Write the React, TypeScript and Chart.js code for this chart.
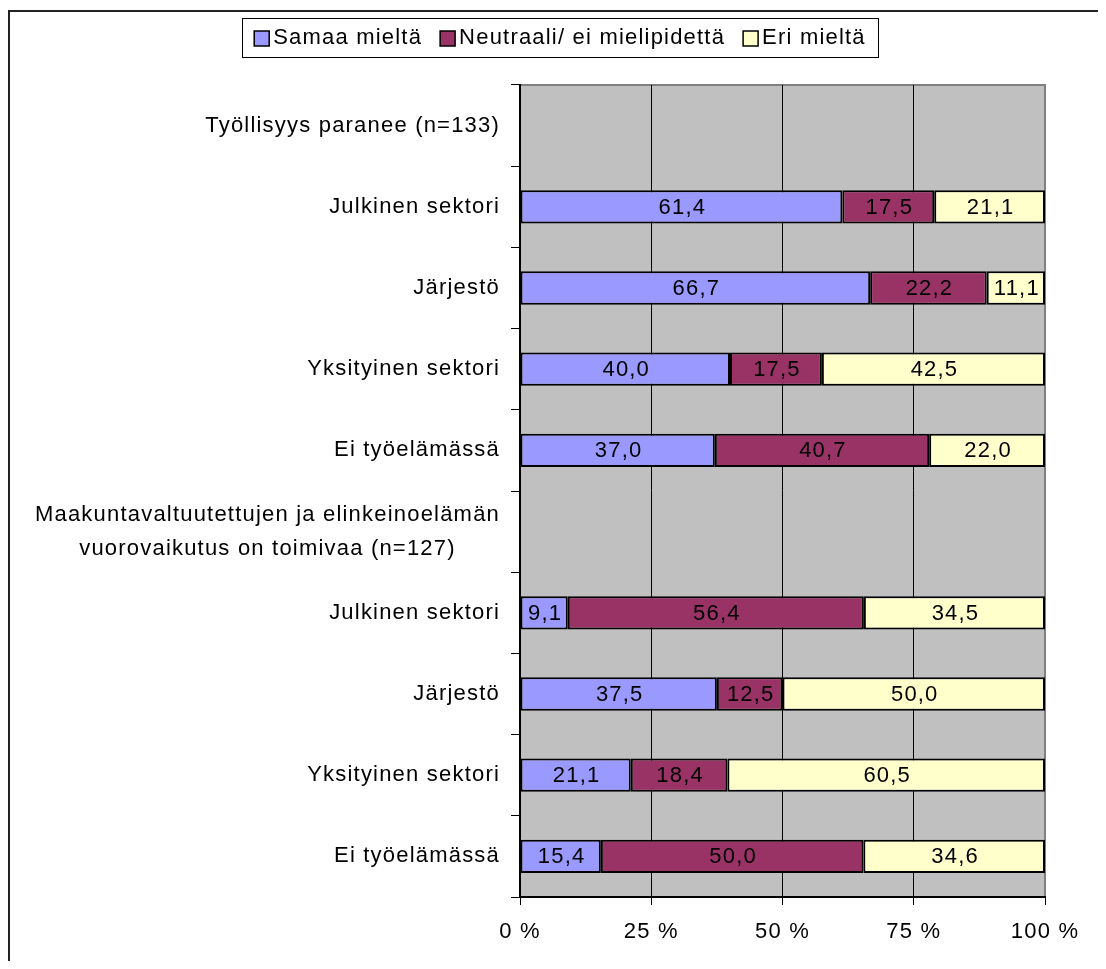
import React, { useEffect, useRef } from "react";
import { Chart, registerables } from "chart.js";

Chart.register(...registerables);

const categories: (string | string[])[] = [
  "Työllisyys paranee (n=133)",
  "Julkinen sektori",
  "Järjestö",
  "Yksityinen sektori",
  "Ei työelämässä",
  ["Maakuntavaltuutettujen ja elinkeinoelämän", "vuorovaikutus on toimivaa (n=127)"],
  "Julkinen sektori",
  "Järjestö",
  "Yksityinen sektori",
  "Ei työelämässä",
];

const seriesNames = ["Samaa mieltä", "Neutraali/ ei mielipidettä", "Eri mieltä"];
const seriesColors = ["#9999FF", "#993366", "#FFFFCC"];

const samaa: (number | null)[] = [null, 61.4, 66.7, 40.0, 37.0, null, 9.1, 37.5, 21.1, 15.4];
const neutraali: (number | null)[] = [null, 17.5, 22.2, 17.5, 40.7, null, 56.4, 12.5, 18.4, 50.0];
const eri: (number | null)[] = [null, 21.1, 11.1, 42.5, 22.0, null, 34.5, 50.0, 60.5, 34.6];

const xTicks = [0, 25, 50, 75, 100];

const FONT = '"Liberation Sans", Arial, sans-serif';
const FS = 22;
const LS = "1.2px";

const raw = [samaa, neutraali, eri];
const rowSum = categories.map((_, i) =>
  raw.reduce((s, arr) => s + (arr[i] ?? 0), 0)
);
const pct = (arr: (number | null)[]) =>
  arr.map((v, i) => (v == null || rowSum[i] === 0 ? null : (v / rowSum[i]) * 100));

const fmt = (v: number) => v.toFixed(1).replace(".", ",");

const framePlugin = {
  id: "frame",
  beforeDraw(chart: any) {
    const { ctx, chartArea: a, width, height } = chart;
    ctx.save();
    ctx.fillStyle = "#ffffff";
    ctx.fillRect(0, 0, width, height);
    ctx.fillStyle = "#C0C0C0";
    ctx.fillRect(a.left, a.top, a.right - a.left, a.bottom - a.top);
    ctx.strokeStyle = "#808080";
    ctx.lineWidth = 2;
    ctx.beginPath();
    ctx.moveTo(a.left, a.top);
    ctx.lineTo(a.right, a.top);
    ctx.lineTo(a.right, a.bottom);
    ctx.stroke();
    ctx.fillStyle = "#222222";
    ctx.fillRect(0, 2, 2, height - 2);
    ctx.fillRect(0, 2, width, 2);
    ctx.restore();
    (ctx as any).letterSpacing = LS;
  },
  afterDraw(chart: any) {
    const { ctx } = chart;
    // category labels: block right-aligned, lines centred within block
    ctx.save();
    (ctx as any).letterSpacing = LS;
    ctx.font = `${FS}px ${FONT}`;
    ctx.fillStyle = "#000";
    ctx.textBaseline = "middle";
    ctx.textAlign = "center";
    const yScale = chart.scales.y;
    const rightEdge = yScale.right - 20;
    const lh = 34;
    categories.forEach((lab, i) => {
      const lines = Array.isArray(lab) ? lab : [lab];
      const maxW = Math.max(...lines.map((l) => ctx.measureText(l).width));
      const cx = rightEdge - maxW / 2;
      const cy = yScale.getPixelForValue(i);
      lines.forEach((l, k) => {
        const y = cy + (k - (lines.length - 1) / 2) * lh;
        ctx.fillText(l, cx, y);
      });
    });
    ctx.restore();

    // legend
    const boxL = 234, boxR = 870, boxT = 10, boxB = 49;
    ctx.save();
    (ctx as any).letterSpacing = LS;
    ctx.font = `${FS}px ${FONT}`;
    const sq = 15, gapSq = 4, gapItem = 18;
    const widths = seriesNames.map((n) => sq + gapSq + ctx.measureText(n).width);
    const total = widths.reduce((a, b) => a + b, 0) + gapItem * (seriesNames.length - 1);
    let x = (boxL + boxR) / 2 - total / 2;
    const cy = (boxT + boxB) / 2;
    ctx.fillStyle = "#fff";
    ctx.fillRect(boxL, boxT, boxR - boxL, boxB - boxT);
    ctx.strokeStyle = "#000";
    ctx.lineWidth = 1;
    ctx.strokeRect(boxL + 0.5, boxT + 0.5, boxR - boxL, boxB - boxT);
    seriesNames.forEach((n, i) => {
      ctx.fillStyle = seriesColors[i];
      ctx.fillRect(x, cy - sq / 2 + 1, sq, sq);
      ctx.strokeStyle = "#000";
      ctx.lineWidth = 1.5;
      ctx.strokeRect(x, cy - sq / 2 + 1, sq, sq);
      ctx.fillStyle = "#000";
      ctx.textBaseline = "middle";
      ctx.textAlign = "left";
      ctx.fillText(n, x + sq + gapSq, cy);
      x += widths[i] + gapItem;
    });
    ctx.restore();
  },
  afterDatasetsDraw(chart: any) {
    const { ctx } = chart;
    ctx.save();
    (ctx as any).letterSpacing = LS;
    ctx.font = `${FS}px ${FONT}`;
    ctx.fillStyle = "#000";
    ctx.textAlign = "center";
    ctx.textBaseline = "middle";
    chart.data.datasets.forEach((ds: any, di: number) => {
      const meta = chart.getDatasetMeta(di);
      meta.data.forEach((el: any, i: number) => {
        const v = raw[di][i];
        if (v == null) return;
        ctx.fillText(fmt(v), (el.x + el.base) / 2 + 1, el.y + 1);
      });
    });
    ctx.restore();
  },
};

export default function App() {
  const ref = useRef<HTMLCanvasElement | null>(null);
  useEffect(() => {
    if (!ref.current) return;
    const chart = new Chart(ref.current, {
      type: "bar",
      data: {
        labels: categories,
        datasets: [samaa, neutraali, eri].map((arr, i) => ({
          label: seriesNames[i],
          data: pct(arr),
          backgroundColor: seriesColors[i],
          borderColor: "#000",
          borderWidth: 2,
          borderSkipped: false,
          categoryPercentage: 1,
          barPercentage: 0.41,
        })),
      },
      options: {
        indexAxis: "y",
        animation: false,
        responsive: false,
        maintainAspectRatio: false,
        layout: { padding: { left: 0, top: 77, right: 53, bottom: 0 } },
        plugins: {
          legend: { display: false },
          tooltip: { enabled: false },
        },
        scales: {
          x: {
            stacked: true,
            min: 0,
            max: 100,
            afterBuildTicks: (axis: any) => {
              axis.ticks = xTicks.map((v) => ({ value: v }));
            },
            afterFit: (axis: any) => {
              axis.height = 64;
            },
            ticks: {
              callback: (v: any) => `${v} %`,
              font: { family: FONT, size: FS },
              color: "#000",
              padding: 14,
              maxRotation: 0,
            },
            grid: {
              color: (c: any) =>
                c.tick && (c.tick.value === 0 || c.tick.value === 100) ? "rgba(0,0,0,0)" : "#000",
              tickColor: "#000",
              tickLength: 8,
              lineWidth: 1,
            },
            border: { color: "#000", width: 2 },
          },
          y: {
            stacked: true,
            offset: true,
            afterFit: (axis: any) => {
              axis.width = 512;
            },
            ticks: {
              callback: () => "",
              font: { family: FONT, size: FS },
              color: "#000",
              padding: 11,
              autoSkip: false,
            },
            grid: {
              offset: true,
              drawOnChartArea: false,
              tickColor: "#000",
              tickLength: 9,
              lineWidth: 1,
            },
            border: { color: "#000", width: 2 },
          },
        },
      },
      plugins: [framePlugin],
    } as any);
    return () => chart.destroy();
  }, []);
  return (
    <canvas
      ref={ref}
      width={1090}
      height={953}
      style={{ display: "block", width: 1090, height: 953 }}
    />
  );
}
